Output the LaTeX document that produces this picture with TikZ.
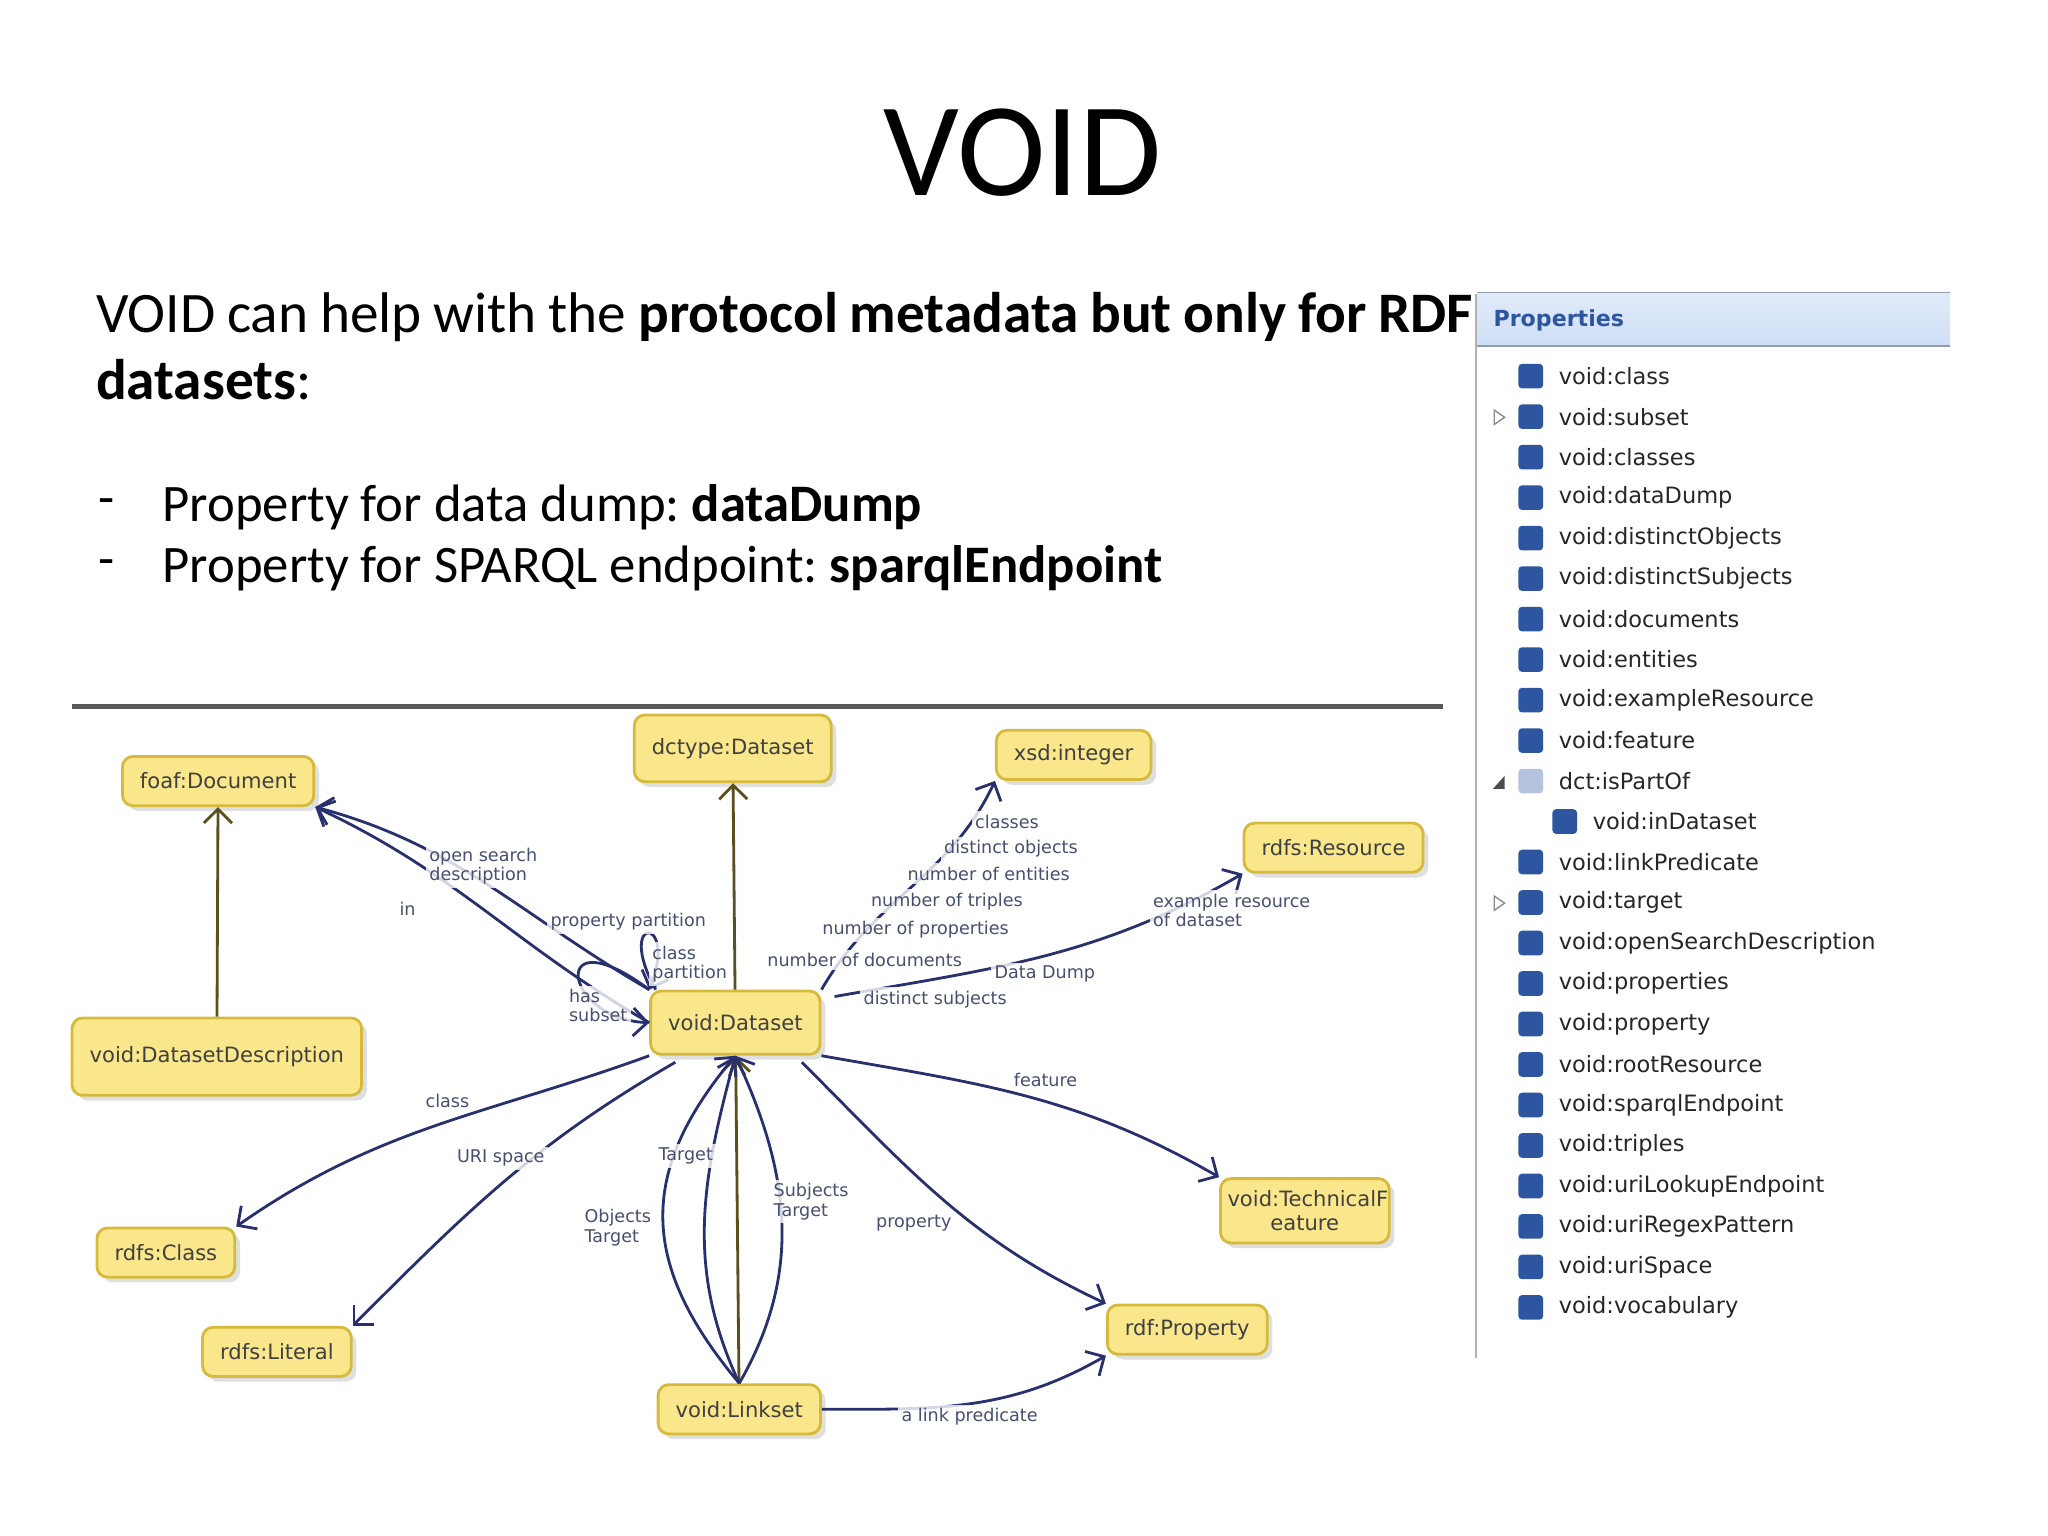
\documentclass[tikz,border=0pt]{standalone}
\usepackage{fontspec}
\setmainfont{Carlito}
\newfontfamily\diagfont{DejaVu Sans}
\definecolor{NodeFill}{RGB}{250, 231, 140}
\definecolor{NodeLine}{RGB}{214, 186, 60}
\definecolor{EdgeBlue}{RGB}{40, 48, 110}
\definecolor{StemOlive}{RGB}{90, 80, 30}
\definecolor{LabelGray}{RGB}{70, 80, 110}
\definecolor{IconBlue}{RGB}{45, 85, 160}
\definecolor{HeadBlue}{RGB}{205, 222, 245}
\usetikzlibrary{arrows.meta, positioning, shadows}

\begin{document}
\begin{tikzpicture}[
        x=0.01306cm, y=-0.01306cm,
        % Styles
        cls/.style={rectangle, draw=NodeLine, thick, fill=NodeFill, rounded corners=3pt, minimum height=14pt, inner xsep=5pt, align=center, font=\diagfont\fontsize{6}{7}\selectfont, text=black!75, drop shadow={shadow xshift=1.5pt, shadow yshift=-1.5pt, opacity=0.25}},
        rel/.style={draw=EdgeBlue, thick, -{Straight Barb[length=4pt]}},
        stem/.style={draw=StemOlive, thick, -{Straight Barb[length=4pt]}},
        lbl/.style={font=\diagfont\fontsize{5}{5.5}\selectfont, text=LabelGray, align=left, inner sep=1pt, fill=white, fill opacity=0.8, text opacity=1},
        prop/.style={anchor=west, font=\diagfont\fontsize{6.4}{7}\selectfont, text=black!85},
        icon/.style={fill=IconBlue, rounded corners=1pt, minimum size=7pt, inner sep=0pt}
    ]
        \useasboundingbox (0,0) rectangle (1568,1176);

        % Title and text
        \node (title) at (783,117) {\fontsize{38}{42}\selectfont VOID};
        \node [anchor=north west, text width=400pt, align=left] (intro) at (64,214) {\fontsize{16.3}{19.3}\selectfont VOID can help with the \textbf{protocol metadata but only for RDF datasets}:\par};
        \node [anchor=west] (dumpdash) at (66,388) {\fontsize{15}{18}\selectfont -};
        \node [anchor=west] (dump) at (115,388) {\fontsize{15}{18}\selectfont Property for data dump:~\textbf{dataDump}};
        \node [anchor=west] (sparqldash) at (66,435) {\fontsize{15}{18}\selectfont -};
        \node [anchor=west] (sparql) at (115,435) {\fontsize{15}{18}\selectfont Property for SPARQL endpoint:~\textbf{sparqlEndpoint}};
        \draw [line width=1.5pt, black!65] (55,541) -- (1105,541);

        % Nodes
        \node [cls] (doc) at (167,598) {foaf:Document};
        \node [cls, minimum height=19pt] (dctype) at (561,573) {dctype:Dataset};
        \node [cls] (int) at (822,578) {xsd:integer};
        \node [cls] (res) at (1021,649) {rdfs:Resource};
        \node [cls, minimum height=22pt] (desc) at (166,809) {void:DatasetDescription};
        \node [cls, minimum height=18pt] (ds) at (563,783) {void:Dataset};
        \node [cls, text width=44pt, inner xsep=2pt] (tech) at (999,927) {void:TechnicalF\\eature};
        \node [cls] (class) at (127,959) {rdfs:Class};
        \node [cls] (lit) at (212,1035) {rdfs:Literal};
        \node [cls] (prp) at (909,1018) {rdf:Property};
        \node [cls] (link) at (566,1079) {void:Linkset};

        % Paths
        \path [stem] (desc) -- (doc);
        \path [stem] (ds) -- (dctype);
        \path [stem] (link) -- (ds);
        \path [rel] (ds.west) to [out=150, in=-25] (doc.south east);
        \path [rel] (ds.north west) to [out=150, in=-15] (doc.south east);
        \node [lbl] (inl) at (312,696) {in};
        \node [lbl] (osd) at (370,663) {open search\\description};
        \path [rel] (ds.north west) .. controls (420,700) and (430,780) .. (ds.west);
        \path [rel] (ds.north west) ++(5,0) .. controls (470,700) and (520,700) .. (ds.north west);
        \node [lbl] (pplabel) at (481,706) {property partition};
        \node [lbl] (cpl) at (528,738) {class\\partition};
        \node [lbl] (hsl) at (458,770) {has\\subset};
        \path [rel] (ds.north east) to [out=60, in=-115] (int.south west);
        \node [lbl] (ndoc) at (662,735) {number of documents};
        \node [lbl] (nprop) at (701,712) {number of properties};
        \node [lbl] (ntrip) at (725,690) {number of triples};
        \node [lbl] (nent) at (757,669) {number of entities};
        \node [lbl] (dobj) at (774,650) {distinct objects};
        \node [lbl] (clsl) at (771,629) {classes};
        \path [rel] (ds.east) ++(10,-20) to [out=10, in=-150] (res.south west);
        \node [lbl] (ddl) at (800,746) {Data Dump};
        \node [lbl] (exl) at (943,697) {example resource\\of dataset};
        \node [lbl] (dsub) at (716,765) {distinct subjects};
        \path [rel] (ds.south east) to [out=-10, in=150] node [lbl, pos=0.45, above right] {feature} (tech.north west);
        \path [rel] (ds.south east) ++(-15,5) to [out=-45, in=155] node [lbl, pos=0.55, below left] {property} (prp.north west);
        \path [rel] (ds.south west) to [out=-160, in=35] node [lbl, pos=0.4, above left] {class} (class.north east);
        \path [rel] (ds.south west) ++(20,5) to [out=-150, in=45] node [lbl, pos=0.35, below left] {URI space} (lit.north east);
        \path [rel] (link.north) to [out=130, in=-130, looseness=1.2] (ds.south);
        \path [rel] (link.north) to [out=115, in=-105] (ds.south);
        \path [rel] (link.north) to [out=60, in=-65] (ds.south);
        \node [lbl] (tgl) at (525,885) {Target};
        \node [lbl] (otl) at (473,940) {Objects\\Target};
        \node [lbl] (stl) at (621,920) {Subjects\\Target};
        \path [rel] (link.east) to [out=0, in=-150] node [lbl, pos=0.5, below] {a link predicate} (prp.south west);

        % Properties panel
        \draw [black!30] (1130,225) -- (1130,1040);
        \shade [top color=HeadBlue!60, bottom color=HeadBlue] (1131,224) rectangle (1493,265);
        \draw [HeadBlue!70!black] (1131,224) -- (1493,224) (1131,265) -- (1493,265);
        \node [anchor=west, font=\diagfont\bfseries\fontsize{6.3}{7}\selectfont, text=IconBlue] (phead) at (1134,245) {Properties};
        \foreach \name [count=\i] in {void:class, void:subset, void:classes, void:dataDump, void:distinctObjects, void:distinctSubjects, void:documents, void:entities, void:exampleResource, void:feature, dct:isPartOf, void:inDataset, void:linkPredicate, void:target, void:openSearchDescription, void:properties, void:property, void:rootResource, void:sparqlEndpoint, void:triples, void:uriLookupEndpoint, void:uriRegexPattern, void:uriSpace, void:vocabulary} {
            \pgfmathsetmacro{\rowy}{257+31*\i}
            \ifnum\i=12
                \node [icon] (icon\i) at (1198,\rowy) {};
                \node [prop] (item\i) at (1210,\rowy) {\name};
            \else\ifnum\i=11
                \node [icon, fill=IconBlue!35] (icon\i) at (1172,\rowy) {};
                \node [prop] (item\i) at (1184,\rowy) {\name};
            \else
                \node [icon] (icon\i) at (1172,\rowy) {};
                \node [prop] (item\i) at (1184,\rowy) {\name};
            \fi\fi
        }
        \draw [black!45] (1144,314) -- (1144,325) -- (1152,319.5) -- cycle;
        \draw [black!45] (1144,686) -- (1144,697) -- (1152,691.5) -- cycle;
        \fill [black!70] (1152,594) -- (1152,604) -- (1143,604) -- cycle;
    \end{tikzpicture}
\end{document}
